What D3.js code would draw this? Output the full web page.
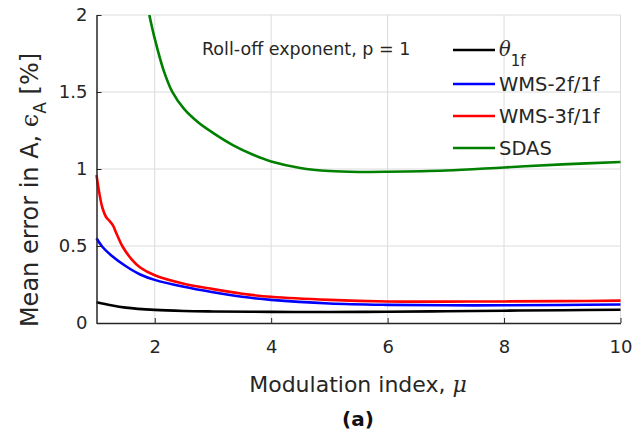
<!DOCTYPE html>
<html lang="en">
<head>
    <meta charset="utf-8">
    <title>Mean error vs modulation index</title>
    <script type="text/javascript" src="https://d3js.org/d3.v7.min.js"></script>
    <style>
        body { margin: 0; background: white; }
        text { font-family: "DejaVu Sans", sans-serif; fill: #262626; }
        .grid line { stroke: #dcdcdc; stroke-width: 1; }
        .axis path, .axis line { stroke: #262626; }
        .axis text { font-size: 18px; }
    </style>
</head>
<body>
    <div id="chart"></div>
    <script type="text/javascript">
        const width = 644;
        const height = 440;
        const margin = {left: 96.5, right: 23.5, top: 15, bottom: 117};

        // data (modulation index mu -> mean error in %)
        const theta1fMu = [1, 1.25, 1.5, 2, 2.5, 3, 4, 5, 6, 7, 8, 9, 10];
        const theta1fErr = [0.135, 0.115, 0.1, 0.085, 0.078, 0.075, 0.072, 0.071, 0.073, 0.076, 0.08, 0.083, 0.086];

        const wms2Mu = [1, 1.1, 1.25, 1.5, 1.75, 2, 2.5, 3, 3.5, 4, 5, 6, 7, 8, 9, 10];
        const wms2Err = [0.55, 0.495, 0.44, 0.37, 0.315, 0.28, 0.235, 0.2, 0.17, 0.15, 0.127, 0.118, 0.115, 0.115, 0.117, 0.12];

        const wms3Mu = [1, 1.05, 1.1, 1.17, 1.22, 1.28, 1.35, 1.45, 1.6, 1.75, 2, 2.5, 3, 3.5, 4, 5, 6, 7, 8, 9, 10];
        const wms3Err = [0.96, 0.84, 0.75, 0.685, 0.665, 0.635, 0.575, 0.495, 0.415, 0.36, 0.31, 0.255, 0.22, 0.19, 0.17, 0.15, 0.14, 0.139, 0.14, 0.142, 0.145];

        const sdasMu = [1.907, 2, 2.15, 2.3, 2.5, 2.75, 3, 3.35, 3.7, 4, 4.5, 5, 5.5, 6, 7, 8, 9, 10];
        const sdasErr = [2.0, 1.847, 1.644, 1.502, 1.392, 1.302, 1.235, 1.154, 1.091, 1.049, 1.007, 0.987, 0.981, 0.982, 0.99, 1.01, 1.03, 1.045];

        const xTicks = [2, 4, 6, 8, 10];
        const yTicks = [0, 0.5, 1, 1.5, 2];
        const yTickLabels = ["0", "0.5", "1", "1.5", "2"];

        const series = [
            {name: "theta", mu: theta1fMu, err: theta1fErr, color: "#000000"},
            {name: "WMS-2f/1f", mu: wms2Mu, err: wms2Err, color: "#0000ff"},
            {name: "WMS-3f/1f", mu: wms3Mu, err: wms3Err, color: "#ff0000"},
            {name: "SDAS", mu: sdasMu, err: sdasErr, color: "#008000"}
        ];

        const svg = d3.select("#chart")
            .append("svg")
            .attr("width", width)
            .attr("height", height);

        const x = d3.scaleLinear()
            .domain([1, 10])
            .range([margin.left, width - margin.right]);

        const y = d3.scaleLinear()
            .domain([0, 2])
            .range([height - margin.bottom, margin.top]);

        // grid lines
        const grid = svg.append("g").attr("class", "grid");
        grid.selectAll("line.gx")
            .data(xTicks)
            .enter()
            .append("line")
                .attr("x1", d => x(d)).attr("x2", d => x(d))
                .attr("y1", y(0)).attr("y2", y(2));
        grid.selectAll("line.gy")
            .data(yTicks.filter(d => d > 0))
            .enter()
            .append("line")
                .attr("y1", d => y(d)).attr("y2", d => y(d))
                .attr("x1", x(1)).attr("x2", x(10));

        // curves
        const line = d3.line()
            .x(d => x(d[0]))
            .y(d => y(d[1]))
            .curve(d3.curveCatmullRom.alpha(0.5));

        svg.append("g")
            .attr("class", "curves")
            .selectAll("path")
            .data(series)
            .enter()
            .append("path")
                .attr("d", s => line(s.mu.map((m, i) => [m, s.err[i]])))
                .attr("fill", "none")
                .attr("stroke", s => s.color)
                .attr("stroke-width", 2.6)
                .attr("stroke-linejoin", "round");

        // axes (ticks point inward, MATLAB style)
        const xAxis = d3.axisBottom(x)
            .tickValues(xTicks)
            .tickSizeInner(-5)
            .tickSizeOuter(0)
            .tickPadding(17);
        svg.append("g")
            .attr("class", "axis x")
            .attr("transform", `translate(0, ${y(0)})`)
            .call(xAxis)
            .call(g => g.select(".domain").attr("stroke-width", 1.5))
            .call(g => g.selectAll("text").attr("dy", "0.71em"));

        const yAxis = d3.axisLeft(y)
            .tickValues(yTicks)
            .tickFormat((d, i) => yTickLabels[i])
            .tickSizeInner(-5)
            .tickSizeOuter(0)
            .tickPadding(9);
        svg.append("g")
            .attr("class", "axis y")
            .attr("transform", `translate(${x(1)}, 0)`)
            .call(yAxis)
            .call(g => g.select(".domain").attr("stroke-width", 1.5));

        // annotation
        svg.append("text")
            .attr("x", 202)
            .attr("y", 55)
            .attr("font-size", 17.5)
            .text("Roll-off exponent, p = 1");

        // legend
        const legendY = [50, 84, 116, 148];
        const legend = svg.append("g").attr("class", "legend");
        series.forEach((s, i) => {
            legend.append("line")
                .attr("x1", 453).attr("x2", 495)
                .attr("y1", legendY[i]).attr("y2", legendY[i])
                .attr("stroke", s.color)
                .attr("stroke-width", 2.6);
            const t = legend.append("text")
                .attr("x", 499)
                .attr("y", legendY[i] + 7)
                .attr("font-size", 19.5);
            if (s.name === "theta") {
                t.append("tspan")
                    .attr("font-family", "'DejaVu Serif', serif")
                    .attr("font-style", "italic")
                    .attr("dy", -1)
                    .text("θ");
                t.append("tspan")
                    .attr("font-size", 15)
                    .attr("dy", 10)
                    .text("1f");
            } else {
                t.text(s.name);
            }
        });

        // axis titles
        svg.append("text")
            .attr("x", 358)
            .attr("y", 392)
            .attr("text-anchor", "middle")
            .attr("font-size", 22)
            .text("Modulation index, ")
            .append("tspan")
                .attr("font-family", "'DejaVu Serif', serif")
                .attr("font-style", "italic")
                .text("μ");

        const yTitle = svg.append("text")
            .attr("transform", "translate(38, 190) rotate(-90)")
            .attr("text-anchor", "middle")
            .attr("font-size", 24);
        yTitle.append("tspan").text("Mean error in A, ");
        yTitle.append("tspan")
            .attr("font-family", "'DejaVu Serif', serif")
            .text("ϵ");
        yTitle.append("tspan")
            .attr("font-size", 17)
            .attr("dy", 8)
            .text("A");
        yTitle.append("tspan")
            .attr("dy", -8)
            .text(" [%]");

        svg.append("text")
            .attr("x", 358)
            .attr("y", 426)
            .attr("text-anchor", "middle")
            .attr("font-family", "'Liberation Sans', Arial, sans-serif")
            .attr("font-weight", "bold")
            .attr("font-size", 20)
            .style("fill", "#111")
            .text("(a)");
    </script>
</body>
</html>
